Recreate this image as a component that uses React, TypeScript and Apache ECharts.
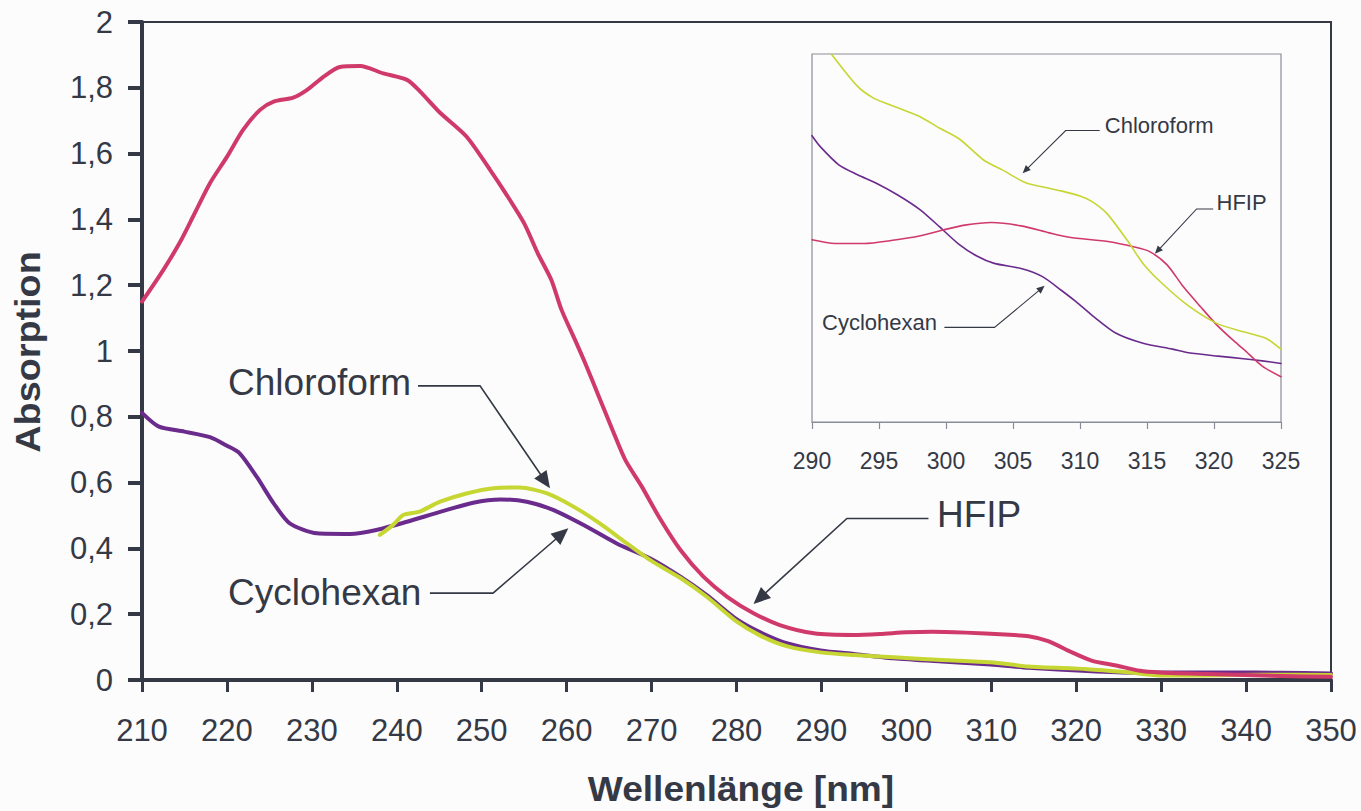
import React, { useEffect, useRef } from "react";
import * as echarts from "echarts";

// ---------- data ----------
const hfipMain: [number, number][] = [
  [210, 1.15], [212.5, 1.246], [214.5, 1.332], [216, 1.408], [218, 1.51], [220, 1.59],
  [221.9, 1.672], [223.9, 1.733], [225.5, 1.758], [227.8, 1.77], [229.4, 1.793], [231.4, 1.834],
  [233.3, 1.863], [235.7, 1.866], [238.4, 1.844], [241.2, 1.824], [242.7, 1.79], [245.1, 1.724],
  [248.2, 1.652], [251, 1.55], [252.8, 1.48], [255, 1.388], [256.6, 1.297],
  [258.2, 1.216], [259.4, 1.125], [261, 1.033], [262.2, 0.962], [263.8, 0.861], [265.4, 0.76],
  [266.9, 0.669], [268.8, 0.59], [271, 0.49], [273.4, 0.395], [276.1, 0.314], [278.9, 0.253],
  [282, 0.203], [285.1, 0.167], [289.1, 0.142], [293.8, 0.137], [296.9, 0.14], [300, 0.145],
  [303, 0.147], [307, 0.144], [311.6, 0.138], [314.4, 0.133], [316.7, 0.118], [319.5, 0.084],
  [321.8, 0.059], [324.7, 0.044], [327.5, 0.028], [329.8, 0.023], [335.5, 0.018], [344.1, 0.012],
  [350, 0.01],
];

const cyclohexanMain: [number, number][] = [
  [210, 0.812], [212, 0.77], [215, 0.755], [218, 0.738], [220, 0.712], [221.5, 0.689],
  [223.5, 0.618], [225.5, 0.537], [227.4, 0.476], [230.6, 0.446], [234.5, 0.444], [237.6, 0.456],
  [241.2, 0.481], [245.1, 0.511], [249, 0.539], [252.2, 0.549], [255.3, 0.542], [258.4, 0.517],
  [262, 0.471], [265.9, 0.415], [269.8, 0.37], [273.4, 0.314], [276.5, 0.258], [280, 0.185],
  [282.8, 0.145], [285.9, 0.112], [289.9, 0.09], [293.8, 0.079], [298.5, 0.066], [304.2, 0.056],
  [309.9, 0.047], [314.4, 0.037], [321.3, 0.027], [326.9, 0.022], [332.6, 0.023], [338.3, 0.023],
  [344, 0.022], [350, 0.02],
];

const chloroformMain: [number, number][] = [
  [238, 0.441], [239.5, 0.47], [240.8, 0.502], [242.7, 0.512], [245.1, 0.542], [248.2, 0.567],
  [251.4, 0.583], [254.5, 0.585], [257.7, 0.567], [260.8, 0.527], [263.9, 0.476], [267.1, 0.415],
  [269.8, 0.365], [273.4, 0.31], [276.5, 0.253], [280, 0.178], [282.8, 0.135], [285.9, 0.103],
  [289.9, 0.084], [293.8, 0.076], [298.5, 0.069], [304.2, 0.061], [309.9, 0.054], [314.4, 0.041],
  [321.3, 0.033], [325.8, 0.024], [329.8, 0.014], [335, 0.014], [342, 0.016], [350, 0.015],
];

// inset (relative scale, no labels on its y axis)
const chloroformInset: [number, number][] = [
  [291.44, 1.0], [293.4, 0.912], [294.6, 0.88], [295.6, 0.865], [297.3, 0.841], [298.1, 0.829],
  [299.5, 0.799], [301, 0.769], [302.8, 0.712], [304.2, 0.685], [305.9, 0.651], [307.7, 0.635],
  [308.6, 0.628], [310, 0.614], [310.9, 0.599], [312, 0.567], [313.5, 0.495], [314.7, 0.431],
  [316, 0.381], [318, 0.318], [320.2, 0.268], [322.2, 0.245], [323.9, 0.227], [325, 0.198],
];

const cyclohexanInset: [number, number][] = [
  [290, 0.778], [290.6, 0.749], [292, 0.699], [293.4, 0.672], [294.8, 0.649], [296.4, 0.617],
  [298.1, 0.576], [299.5, 0.531], [300.9, 0.485], [302.3, 0.451], [303.6, 0.431], [305.6, 0.417],
  [307.2, 0.395], [308.6, 0.358], [309.7, 0.327], [310.9, 0.29], [312.7, 0.241], [314.7, 0.214],
  [316.9, 0.198], [318.1, 0.188], [320.3, 0.179], [322.2, 0.172], [323.6, 0.166], [325, 0.159],
];

const hfipInset: [number, number][] = [
  [290, 0.495], [291.7, 0.485], [293.9, 0.485], [295.9, 0.493], [298.1, 0.506], [299.8, 0.522],
  [301.4, 0.535], [303.4, 0.542], [305.6, 0.533], [307.7, 0.514], [309.2, 0.502], [312.2, 0.49],
  [314, 0.476], [315.2, 0.463], [316.5, 0.427], [317.7, 0.368], [319, 0.313], [320.2, 0.264],
  [321.4, 0.223], [322.2, 0.198], [323.6, 0.152], [325, 0.123],
];

// annotations: label, text anchor (left, middle), leader end, bend, arrow tip — in data units
type Ann = { text: string; at: [number, number]; from: [number, number]; bend: [number, number]; tip: [number, number] };
const mainAnnotations: Ann[] = [
  { text: "Chloroform", at: [220.13, 0.903], from: [242.5, 0.894], bend: [249.8, 0.894], tip: [258.04, 0.583] },
  { text: "Cyclohexan", at: [220.13, 0.267], from: [243.9, 0.264], bend: [251.33, 0.264], tip: [260.2, 0.461] },
  { text: "HFIP", at: [303.6, 0.502], from: [302.6, 0.491], bend: [293.0, 0.491], tip: [282.0, 0.231] },
];
const insetAnnotations: Ann[] = [
  { text: "Chloroform", at: [311.85, 0.807], from: [311.47, 0.792], bend: [308.93, 0.792], tip: [305.72, 0.676] },
  { text: "HFIP", at: [320.19, 0.596], from: [319.94, 0.579], bend: [318.7, 0.579], tip: [315.59, 0.457] },
  { text: "Cyclohexan", at: [290.75, 0.27], from: [299.88, 0.257], bend: [303.62, 0.257], tip: [307.36, 0.37] },
];

const mainXTicks = { min: 210, max: 350, interval: 10 };
const mainYTicks = { min: 0, max: 2, interval: 0.2 };
const insetXTicks = { min: 290, max: 325, interval: 5 };

const xTitle = "Wellenlänge [nm]";
const yTitle = "Absorption";

// ---------- styles ----------
const FONT = '"Liberation Sans", Arial, Helvetica, sans-serif';
const AXIS = "#353945";
const GRAYFRAME = "#8a8d97";
const RED = "#d03a6b";
const PURPLE = "#6a2b8c";
const GREEN = "#c6d633";
const BG = "#fcfcfc";

const fmtComma = (v: number) => String(Number(v.toFixed(1))).replace(".", ",");

export default function App() {
  const ref = useRef<HTMLDivElement>(null);

  useEffect(() => {
    if (!ref.current) return;
    const chart = echarts.init(ref.current, null, { renderer: "svg" });

    const lineSeries = (name: string, data: [number, number][], color: string, width: number, idx: number) => ({
      name,
      type: "line",
      xAxisIndex: idx,
      yAxisIndex: idx,
      data,
      showSymbol: false,
      symbol: "none",
      smooth: 0.25,
      lineStyle: { color, width, cap: "round", join: "round" },
      itemStyle: { color },
      emphasis: { disabled: true },
      z: 3,
    });

    const option: any = {
      animation: false,
      backgroundColor: BG,
      textStyle: { fontFamily: FONT },
      grid: [
        { left: 142, right: 30, top: 22, bottom: 131, show: true, borderColor: AXIS, borderWidth: 2, backgroundColor: "transparent" },
        { left: 812, right: 80, top: 54, bottom: 389, show: true, borderColor: GRAYFRAME, borderWidth: 1.2, backgroundColor: "transparent" },
      ],
      xAxis: [
        {
          type: "value", gridIndex: 0, ...mainXTicks,
          axisLine: { show: true, onZero: false, lineStyle: { color: AXIS, width: 4 } },
          axisTick: { show: true, length: 12, lineStyle: { color: AXIS, width: 3 } },
          axisLabel: { fontSize: 31, color: AXIS, margin: 35, fontFamily: FONT },
          splitLine: { show: false },
        },
        {
          type: "value", gridIndex: 1, ...insetXTicks,
          axisLine: { show: true, onZero: false, lineStyle: { color: GRAYFRAME, width: 1.2 } },
          axisTick: { show: true, length: 7, lineStyle: { color: GRAYFRAME, width: 1.2 } },
          axisLabel: { fontSize: 23, color: AXIS, margin: 27, fontFamily: FONT },
          splitLine: { show: false },
        },
      ],
      yAxis: [
        {
          type: "value", gridIndex: 0, ...mainYTicks,
          axisLine: { show: true, onZero: false, lineStyle: { color: AXIS, width: 4 } },
          axisTick: { show: true, length: 14, lineStyle: { color: AXIS, width: 4 } },
          axisLabel: { fontSize: 31, color: AXIS, margin: 29, fontFamily: FONT, formatter: fmtComma },
          splitLine: { show: false },
        },
        {
          type: "value", gridIndex: 1, min: 0, max: 1,
          axisLine: { show: false }, axisTick: { show: false }, axisLabel: { show: false },
          splitLine: { show: false },
        },
      ],
      series: [
        lineSeries("Cyclohexan", cyclohexanMain, PURPLE, 4, 0),
        lineSeries("Chloroform", chloroformMain, GREEN, 4, 0),
        lineSeries("HFIP", hfipMain, RED, 4, 0),
        lineSeries("Cyclohexan (Ausschnitt)", cyclohexanInset, PURPLE, 1.6, 1),
        lineSeries("HFIP (Ausschnitt)", hfipInset, RED, 1.6, 1),
        lineSeries("Chloroform (Ausschnitt)", chloroformInset, GREEN, 1.6, 1),
      ],
    };
    chart.setOption(option);

    const graphics: any[] = [];
    const addAnn = (a: Ann, gridIndex: number, fontSize: number, lineW: number, headL: number, headW: number) => {
      const p = (v: [number, number]) => chart.convertToPixel({ gridIndex } as any, v) as number[];
      const t = p(a.at);
      const f = p(a.from);
      const b = p(a.bend);
      const tip = p(a.tip);
      const dx = tip[0] - b[0];
      const dy = tip[1] - b[1];
      const len = Math.hypot(dx, dy);
      const ux = dx / len;
      const uy = dy / len;
      const nx = -uy;
      const ny = ux;
      const base = [tip[0] - ux * headL, tip[1] - uy * headL];
      graphics.push({
        type: "polyline",
        shape: { points: [f, b, [tip[0] - ux * headL * 0.6, tip[1] - uy * headL * 0.6]] },
        style: { stroke: AXIS, lineWidth: lineW, fill: null },
        z: 10,
      });
      graphics.push({
        type: "polygon",
        shape: { points: [tip, [base[0] + nx * headW, base[1] + ny * headW], [base[0] - nx * headW, base[1] - ny * headW]] },
        style: { fill: AXIS, stroke: null },
        z: 10,
      });
      graphics.push({
        type: "text",
        x: t[0],
        y: t[1],
        style: {
          text: a.text, fill: AXIS, fontSize, fontFamily: FONT,
          textAlign: "left", textVerticalAlign: "middle", align: "left", verticalAlign: "middle",
        },
        z: 10,
      });
    };
    mainAnnotations.forEach((a) => addAnn(a, 0, 37, 1.6, 17, 7.5));
    insetAnnotations.forEach((a) => addAnn(a, 1, 22, 1.1, 8, 3.5));

    graphics.push({
      type: "text",
      x: 28,
      y: 352,
      rotation: Math.PI / 2,
      scaleX: 1.08,
      style: {
        text: yTitle, fill: AXIS, fontSize: 35, fontWeight: "bold", fontFamily: FONT,
        textAlign: "center", textVerticalAlign: "middle", align: "center", verticalAlign: "middle",
      },
      z: 10,
    });
    graphics.push({
      type: "text",
      x: 741,
      y: 789,
      scaleX: 1.06,
      style: {
        text: xTitle, fill: AXIS, fontSize: 35, fontWeight: "bold", fontFamily: FONT,
        textAlign: "center", textVerticalAlign: "middle", align: "center", verticalAlign: "middle",
      },
      z: 10,
    });

    chart.setOption({ graphic: graphics });

    return () => chart.dispose();
  }, []);

  return <div ref={ref} style={{ position: "fixed", left: 0, top: 0, width: 1361, height: 811 }} />;
}
